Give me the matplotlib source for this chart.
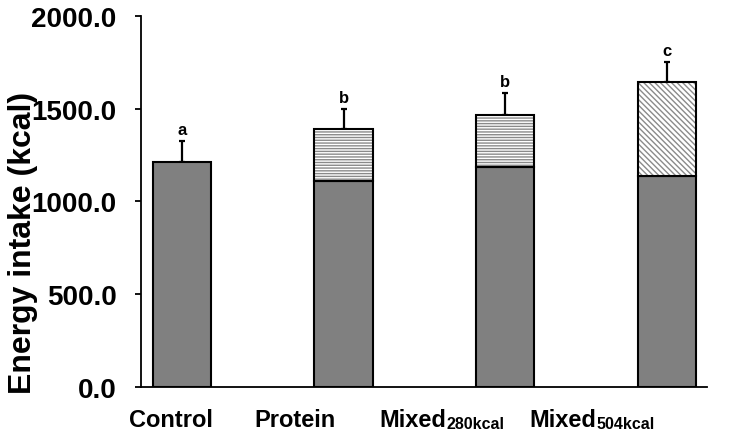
import numpy as np
import matplotlib
matplotlib.use('Agg')
import matplotlib.pyplot as plt

plt.rcParams['font.family'] = ['Liberation Sans', 'DejaVu Sans']
plt.rcParams['font.weight'] = 'bold'
plt.rcParams['hatch.linewidth'] = 1.0

# data
groups = ['Control', 'Protein', 'Mixed', 'Mixed']
group_subs = ['', '', '280kcal', '504kcal']
base_kcal = [1213, 1110, 1186, 1137]
extra_kcal = [0, 281, 280, 507]
sd_kcal = [113, 108, 119, 108]
sig_letters = ['a', 'b', 'b', 'c']
extra_hatch = ['', '------', '------', '\\\\\\\\\\\\']
label_left = [-0.33, 0.45, 1.224, 2.152]   # left edge of each x label (data units)

x = np.arange(len(groups))
base = np.array(base_kcal)
extra = np.array(extra_kcal)
total = base + extra
w = 0.36

fig = plt.figure(figsize=(7.33, 4.31), dpi=100)
ax = fig.add_axes([0.1924, 0.0998, 0.7721, 0.8608])

# base (grey) part
ax.bar(x, base, w, color='#808080', edgecolor='black', linewidth=1.5, zorder=2)
# upper hatched part : hatch drawn with grey edge, then black outline on top
for i in range(len(x)):
    if extra[i] > 0:
        ax.bar(x[i], extra[i], w, bottom=base[i], color='white', edgecolor='#8a8a8a',
               linewidth=0, hatch=extra_hatch[i], zorder=2)
        ax.bar(x[i], extra[i], w, bottom=base[i], fill=False, edgecolor='black',
               linewidth=1.5, zorder=3)

# upper error bars only
ax.errorbar(x, total, yerr=[np.zeros(len(x)), sd_kcal], fmt='none', ecolor='black',
            elinewidth=1.6, capsize=2.5, capthick=1.6, zorder=1)

for i in range(len(x)):
    ax.annotate(sig_letters[i], xy=(x[i], total[i] + sd_kcal[i]), xytext=(0, 3),
                textcoords='offset points', ha='center', va='bottom',
                fontsize=12, fontweight='bold')

ax.set_xlim(-0.254, 3.25)
ax.set_ylim(0, 2000)
ax.set_yticks([0, 500, 1000, 1500, 2000])
ax.set_yticklabels(['%.1f' % v for v in [0, 500, 1000, 1500, 2000]])
ax.set_xticks([])
ax.tick_params(axis='y', direction='out', length=4.5, width=1.3, pad=13, labelsize=20)
for lab in ax.get_yticklabels():
    lab.set_fontweight('bold')

ax.spines['top'].set_visible(False)
ax.spines['right'].set_visible(False)
ax.spines['left'].set_linewidth(1.3)
ax.spines['bottom'].set_linewidth(1.3)

ax.set_ylabel('Energy intake (kcal)', fontsize=23, fontweight='bold')
ax.yaxis.set_label_coords(-0.182, 0.39)

# x labels (with small subscripts)
trans = ax.get_xaxis_transform()
for i in range(len(groups)):
    t = ax.text(label_left[i], -0.105, groups[i], transform=trans, ha='left',
                va='baseline', fontsize=17, fontweight='bold', clip_on=False)
    if group_subs[i]:
        ax.annotate(group_subs[i], xy=(1, 0), xycoords=t, xytext=(0, 0),
                    textcoords='offset points', ha='left', va='bottom',
                    fontsize=11.5, fontweight='bold')

fig.savefig('out.png', dpi=100)
